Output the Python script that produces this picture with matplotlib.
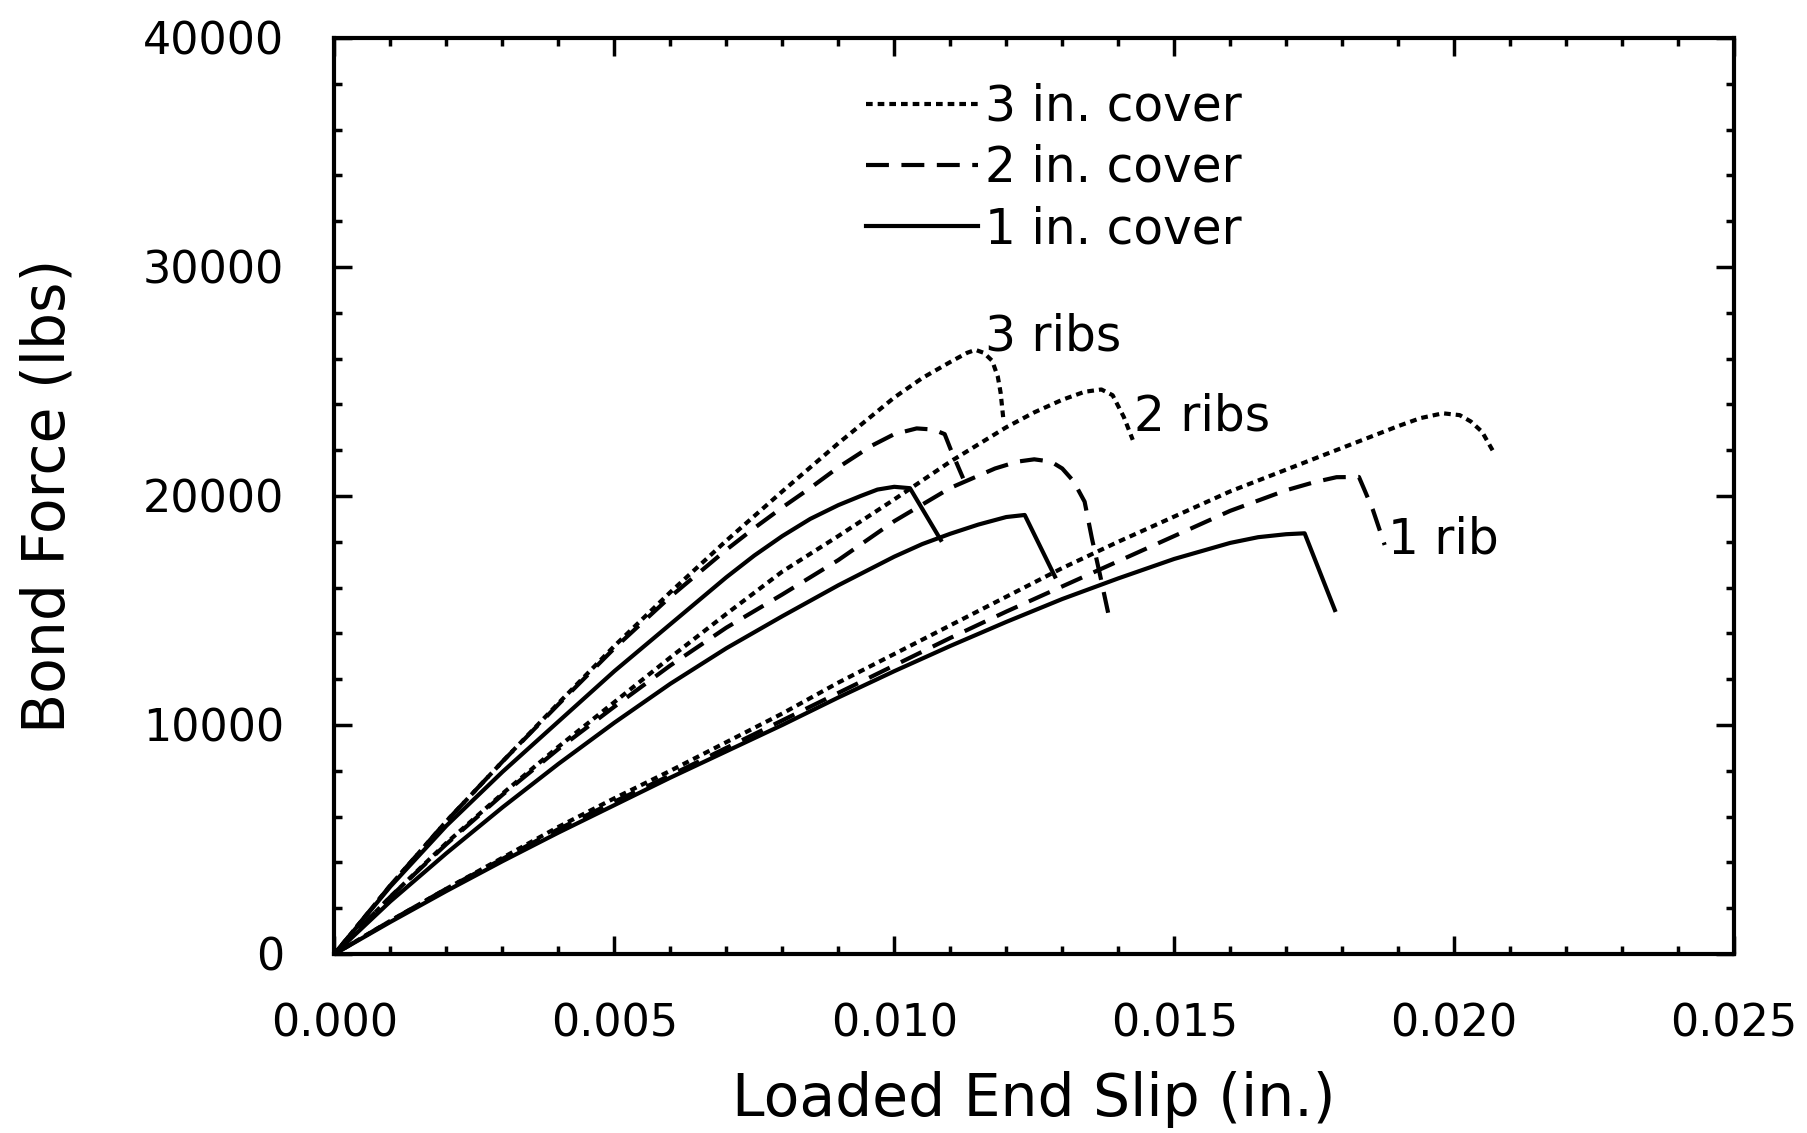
import matplotlib
matplotlib.use("Agg")
import matplotlib.pyplot as plt
from matplotlib.ticker import MultipleLocator, FormatStrFormatter

plt.rcParams["font.family"] = ["DejaVu Sans"]

# Loaded end slip (in.) and bond force (lbs) for each specimen
slip_3rib_3in = [0, .001, .002, .003, .004, .005, .006, .007, .008, .009, .0095,
                 .010, .0105, .011, .0113, .01145, .0116, .01175, .01185, .0119,
                 .01195]
force_3rib_3in = [0, 3000, 5800, 8400, 10950, 13450, 15800, 18050, 20200, 22300,
                  23300, 24300, 25150, 25850, 26250, 26380, 26250, 25900, 25200,
                  24500, 23320]

slip_3rib_2in = [0, .001, .002, .003, .004, .005, .006, .007, .0075, .008, .0085,
                 .009, .0096, .0100, .0104, .0107, .0109, .0110, .01123]
force_3rib_2in = [0, 3000, 5800, 8400, 10900, 13350, 15600, 17650, 18600, 19500,
                  20350, 21250, 22200, 22700, 22950, 22900, 22700, 22080, 20770]

slip_3rib_1in = [0, .001, .002, .003, .004, .005, .006, .007, .0075, .008, .0085,
                 .009, .0094, .0097, .0100, .01028, .01083]
force_3rib_1in = [0, 2950, 5600, 7950, 10150, 12350, 14400, 16450, 17400, 18250,
                  19000, 19600, 20000, 20280, 20400, 20340, 18080]

slip_2rib_3in = [0, .001, .002, .003, .004, .005, .006, .007, .008, .009, .010,
                 .011, .012, .0125, .013, .0134, .0137, .0139, .0141, .01426]
force_2rib_3in = [0, 2500, 4850, 7000, 9050, 11000, 12950, 14850, 16700, 18250,
                  19850, 21500, 23000, 23650, 24200, 24550, 24650, 24400, 23450,
                  22450]

slip_2rib_2in = [0, .001, .002, .003, .004, .005, .006, .007, .008, .009, .010,
                 .011, .0118, .0122, .0125, .0128, .0130, .0132, .0134, .01353,
                 .01368, .01382]
force_2rib_2in = [0, 2500, 4800, 6950, 8950, 10800, 12600, 14250, 15700, 17200,
                  18900, 20350, 21200, 21500, 21600, 21500, 21200, 20650, 19750,
                  18150, 16500, 14900]

slip_2rib_1in = [0, .001, .002, .003, .004, .005, .006, .007, .008, .009, .010,
                 .0105, .011, .0115, .012, .01233, .01287]
force_2rib_1in = [0, 2300, 4400, 6400, 8300, 10100, 11800, 13350, 14750, 16100,
                  17350, 17900, 18350, 18750, 19080, 19170, 16480]

slip_1rib_3in = [0, .001, .002, .003, .004, .005, .006, .007, .008, .009, .010,
                 .011, .012, .013, .014, .015, .016, .017, .018, .019, .0194,
                 .0198, .0201, .0203, .0205, .0207]
force_1rib_3in = [0, 1450, 2850, 4200, 5550, 6800, 8000, 9250, 10500, 11850,
                  13100, 14350, 15600, 16850, 18000, 19100, 20200, 21150, 22100,
                  23050, 23400, 23610, 23530, 23250, 22800, 21940]

slip_1rib_2in = [0, .001, .002, .003, .004, .005, .006, .007, .008, .009, .010,
                 .011, .012, .013, .014, .015, .016, .017, .0175, .0179, .0183,
                 .0184, .01855, .01876]
force_1rib_2in = [0, 1450, 2850, 4150, 5450, 6650, 7800, 9000, 10200, 11400,
                  12600, 13800, 14950, 16050, 17150, 18250, 19350, 20250, 20600,
                  20820, 20830, 20260, 19390, 17860]

slip_1rib_1in = [0, .001, .002, .003, .004, .005, .006, .007, .008, .009, .010,
                 .011, .012, .013, .014, .015, .016, .0165, .0170, .01733, .01787]
force_1rib_1in = [0, 1400, 2750, 4050, 5300, 6500, 7700, 8850, 10000, 11200,
                  12350, 13450, 14500, 15500, 16400, 17250, 17950, 18200, 18330,
                  18370, 15020]

cover_labels = ["3 in. cover", "2 in. cover", "1 in. cover"]
rib_labels = ["3 ribs", "2 ribs", "1 rib"]
rib_label_pos = [(0.01162, 26950), (0.01429, 23450), (0.01882, 18110)]

DOT = (0, (1.6, 1.2))
DASH = (0, (5.5, 3.0))
SOLID = "-"

fig = plt.figure(figsize=(18.07, 11.33), dpi=100)
ax = fig.add_axes([0.1851, 0.158, 0.7745, 0.8085])

lw = 3.0
groups = [
    (slip_3rib_3in, force_3rib_3in, slip_3rib_2in, force_3rib_2in, slip_3rib_1in, force_3rib_1in),
    (slip_2rib_3in, force_2rib_3in, slip_2rib_2in, force_2rib_2in, slip_2rib_1in, force_2rib_1in),
    (slip_1rib_3in, force_1rib_3in, slip_1rib_2in, force_1rib_2in, slip_1rib_1in, force_1rib_1in),
]
handles = None
for x3, y3, x2, y2, x1, y1 in groups:
    h3, = ax.plot(x3, y3, color="black", lw=lw, linestyle=DOT)
    h2, = ax.plot(x2, y2, color="black", lw=lw, linestyle=DASH)
    h1, = ax.plot(x1, y1, color="black", lw=lw, linestyle=SOLID)
    if handles is None:
        handles = [h3, h2, h1]

for text, (tx, ty) in zip(rib_labels, rib_label_pos):
    ax.text(tx, ty, text, fontsize=35, ha="left", va="center")

ax.set_xlim(0, 0.025)
ax.set_ylim(0, 40000)
ax.xaxis.set_major_locator(MultipleLocator(0.005))
ax.xaxis.set_minor_locator(MultipleLocator(0.001))
ax.yaxis.set_major_locator(MultipleLocator(10000))
ax.yaxis.set_minor_locator(MultipleLocator(2000))
ax.xaxis.set_major_formatter(FormatStrFormatter("%.3f"))
ax.yaxis.set_major_formatter(FormatStrFormatter("%d"))

ax.tick_params(which="both", direction="in", top=True, right=True, width=2.5,
               labelsize=32)
ax.tick_params(axis="x", which="major", length=13, pad=35)
ax.tick_params(axis="y", which="major", length=13, pad=36)
ax.tick_params(which="minor", length=6)
for s in ax.spines.values():
    s.set_linewidth(3)

ax.set_xlabel("Loaded End Slip (in.)", fontsize=42)
ax.set_ylabel("Bond Force (lbs)", fontsize=42)
ax.xaxis.label.set_va("center")
ax.yaxis.label.set_va("center")
ax.xaxis.set_label_coords(0.5, -0.159)
ax.yaxis.set_label_coords(-0.2046, 0.5)

ax.legend(handles, cover_labels, loc="upper left", bbox_to_anchor=(0.38, 0.951),
          frameon=False, fontsize=35, handlelength=2.3, handletextpad=0.15,
          labelspacing=0.27, borderpad=0, borderaxespad=0)

fig.savefig("out.png", dpi=100)
